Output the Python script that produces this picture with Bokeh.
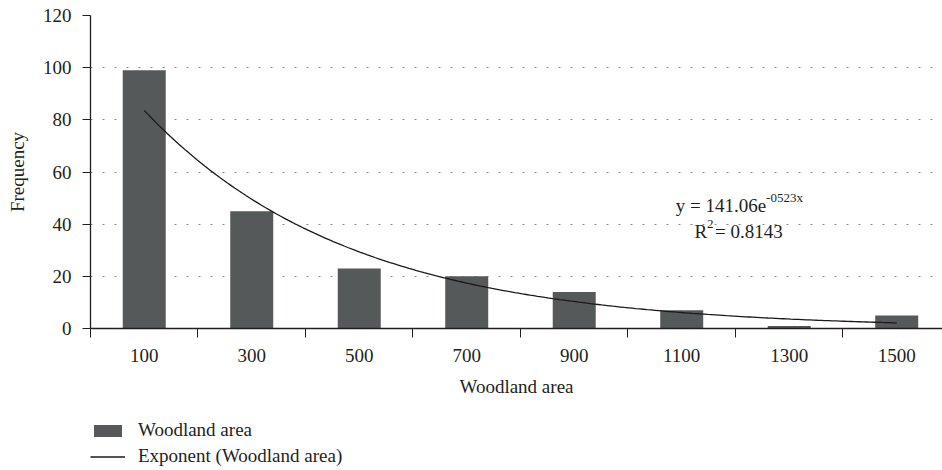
import numpy as np
from bokeh.plotting import figure
from bokeh.layouts import column
from bokeh.models import Range1d, FixedTicker, Legend, LegendItem, ColumnDataSource
from bokeh.core.properties import value
from bokeh.embed import file_html
from bokeh.resources import INLINE

# ---- data ----
categories = ["100", "300", "500", "700", "900", "1100", "1300", "1500"]
frequency = [99, 45, 23, 20, 14, 7, 1, 5]
trend_a = 141.06      # y = 141.06 e^(-0.523 x)
trend_b = 0.523
y_ticks = [0, 20, 40, 60, 80, 100, 120]
legend_labels = ["Woodland area", "Exponent (Woodland area)"]

FONT = "Liberation Serif"
BAR_COLOR = "#565959"
LINE_COLOR = "#1a1a1a"
TXT = "#231f20"

pos = list(range(1, len(categories) + 1))
src = ColumnDataSource(dict(x=pos, top=frequency, label=categories))
tx = np.linspace(pos[0], pos[-1], 200)
ty = trend_a * np.exp(-trend_b * tx)
trend_src = ColumnDataSource(dict(x=tx, y=ty))

p = figure(width=942, height=408, output_backend="svg", toolbar_location=None,
           x_range=Range1d(0.5, 8.426), y_range=Range1d(0, 120),
           min_border_left=90, min_border_right=0, min_border_top=15, min_border_bottom=80)
p.outline_line_color = None
p.background_fill_color = None
p.border_fill_color = "white"

bars = p.vbar(x="x", top="top", width=0.4, source=src, fill_color=BAR_COLOR, line_color=None)
trend = p.line(x="x", y="y", source=trend_src, line_color=LINE_COLOR, line_width=1.3)

# axes
xa = p.xaxis[0]
xa.ticker = FixedTicker(ticks=pos, minor_ticks=[i + 0.5 for i in range(0, len(categories) + 1)])
xa.major_label_overrides = {i: c for i, c in zip(pos, categories)}
xa.major_tick_line_color = None
xa.minor_tick_line_color = TXT
xa.minor_tick_out = 9
xa.minor_tick_in = 0
xa.axis_line_color = TXT
xa.axis_line_width = 1.3
xa.major_label_text_font = FONT
xa.major_label_text_font_size = "19px"
xa.major_label_text_color = TXT
xa.major_label_standoff = 11
xa.axis_label = "Woodland area"
xa.axis_label_text_font = FONT
xa.axis_label_text_font_style = "normal"
xa.axis_label_text_font_size = "19px"
xa.axis_label_text_color = TXT
xa.axis_label_standoff = 11

ya = p.yaxis[0]
ya.ticker = FixedTicker(ticks=y_ticks)
ya.minor_tick_line_color = None
ya.major_tick_out = 8
ya.major_tick_in = 0
ya.major_tick_line_color = TXT
ya.axis_line_color = TXT
ya.axis_line_width = 1.3
ya.major_label_text_font = FONT
ya.major_label_text_font_size = "19px"
ya.major_label_text_color = TXT
ya.major_label_standoff = 11
ya.axis_label = "Frequency"
ya.axis_label_text_font = FONT
ya.axis_label_text_font_style = "normal"
ya.axis_label_text_font_size = "19px"
ya.axis_label_text_color = TXT
ya.axis_label_standoff = 12

p.xgrid.grid_line_color = None
p.ygrid.ticker = FixedTicker(ticks=y_ticks[1:])
p.ygrid.grid_line_color = "#8a8a8a"
p.ygrid.grid_line_dash = "2 10"
p.ygrid.grid_line_width = 1.2

# trendline equation (main text + superscripts)
eq_main = ColumnDataSource(dict(x=[6.785, 6.236], y=[47.3, 37.0], t=["y = 141.06e", "R"]))
p.text(x="x", y="y", text="t", source=eq_main, text_align="right", text_baseline="alphabetic",
       text_font=value(FONT), text_font_size="19px", text_color=TXT)
eq_sup = ColumnDataSource(dict(x=[6.785, 6.236], y=[50.4, 40.0], t=["-0523x", "2"]))
p.text(x="x", y="y", text="t", source=eq_sup, text_align="left", text_baseline="alphabetic",
       text_font=value(FONT), text_font_size="13px", text_color=TXT)
eq_rest = ColumnDataSource(dict(x=[6.31], y=[37.0], t=["= 0.8143"]))
p.text(x="x", y="y", text="t", source=eq_rest, text_align="left", text_baseline="alphabetic",
       text_font=value(FONT), text_font_size="19px", text_color=TXT)

# ---- legend strip under the chart (same series, drawn outside its visible range) ----
p2 = figure(width=942, height=62, output_backend="svg", toolbar_location=None,
            x_range=Range1d(-20, -19), y_range=Range1d(-20, -19),
            x_axis_location=None, y_axis_location=None,
            min_border_left=90, min_border_right=0, min_border_top=11, min_border_bottom=0)
p2.outline_line_color = None
p2.background_fill_color = None
p2.border_fill_color = "white"
p2.grid.visible = False
lg_bar = p2.vbar(x="x", top="top", width=0.4, source=src, fill_color=BAR_COLOR, line_color=None)
lg_line = p2.line(x="x", y="y", source=trend_src, line_color=LINE_COLOR, line_width=1.3)
legend = Legend(items=[LegendItem(label=legend_labels[0], renderers=[lg_bar]),
                       LegendItem(label=legend_labels[1], renderers=[lg_line])],
                location="top_left", orientation="vertical",
                border_line_color=None, background_fill_alpha=0,
                padding=0, margin=0, spacing=4,
                glyph_width=35, glyph_height=15, label_height=15,
                label_standoff=13, label_text_font=FONT, label_text_font_size="19px",
                label_text_color=TXT)
p2.add_layout(legend, "center")

layout = column(p, p2, spacing=0)
open("out.html", "w").write(file_html(layout, INLINE))
